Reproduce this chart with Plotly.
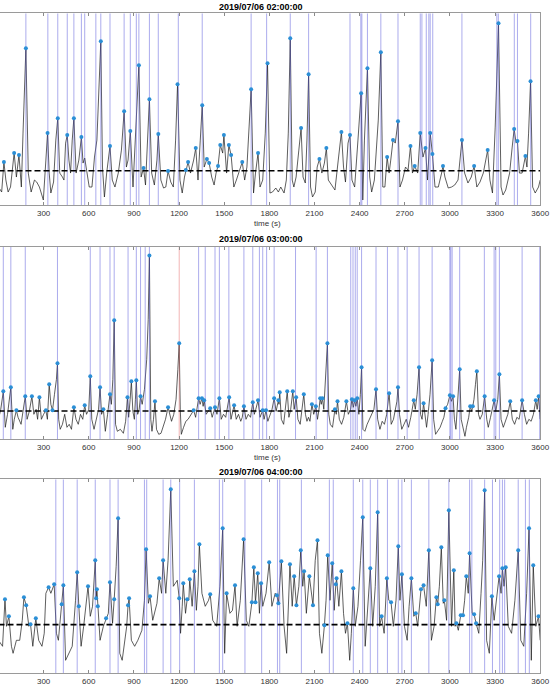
import numpy as np
import plotly.graph_objects as go
from plotly.subplots import make_subplots

# ---------------- data (time in s, signal in arbitrary units) ----------------
titles = ["2019/07/06 02:00:00", "2019/07/06 03:00:00", "2019/07/06 04:00:00"]
x_ticks = list(range(0, 3601, 300))

p1_t = [0,21,36,49,64,80,104,119,136,152,163,182,198,217,239,254,272,289,298,315,326,337,348,366,381,394,407,425,435,446,457,468,479,490,501,516,534,551,562,573,588,603,621,638,654,680,691,704,719,741,756,774,796,817,835,850,861,876,894,909,933,948,964,977,992,1003,1018,1036,1053,1062,1079,1097,1112,1127,1145,1162,1177,1190,1206,1221,1236,1245,1260,1276,1297,1311,1326,1341,1354,1367,1385,1400,1417,1433,1446,1459,1474,1490,1498,1516,1531,1546,1564,1581,1603,1620,1636,1651,1679,1695,1708,1725,1738,1756,1773,1788,1804,1821,
        1843,1860,1876,1898,1913,1926,1939,1952,1963,1978,1996,2011,2024,2039,2050,2061,2074,2087,2105,2118,2133,2149,2166,2179,2192,2214,2236,2258,2279,2293,2306,2323,2336,2349,2367,2389,2410,2421,2432,2452,2467,2480,2498,2524,2541,2554,2568,2583,2596,2607,2622,2637,2655,2668,2685,2705,2722,2738,2751,2766,2786,2803,2821,2838,2851,2869,2884,2901,2923,2945,2954,2967,2989,3011,3032,3054,3080,3098,3120,3142,3161,3179,3200,3222,3251,3266,3283,3301,3323,3340,3353,3371,3397,3414,3427,3440,3449,3462,3480,3502,3512,3523,3536,3550,3567,3589,3600]
p1_v = [18,13,43,25,13,18,52,28,50,18,72,157,32,13,25,23,18,8,5,45,72,32,12,23,65,87,32,28,25,62,70,45,32,65,87,32,45,68,42,47,32,18,18,48,65,164,38,8,32,59,25,18,32,55,94,38,45,74,18,65,140,28,37,20,65,106,32,20,45,71,25,17,18,34,23,18,65,121,25,12,28,35,43,32,45,57,25,65,100,38,46,42,28,20,32,39,60,52,70,32,60,50,18,25,35,43,25,38,116,12,32,52,18,25,72,142,12,13,
        17,13,18,12,25,72,167,25,18,28,55,77,28,22,65,131,18,8,13,38,46,32,42,57,25,20,15,45,73,38,23,62,70,25,18,65,112,5,65,137,28,13,25,85,153,18,18,48,32,45,65,62,84,18,25,38,35,59,32,39,32,72,48,57,25,72,51,18,18,32,39,28,17,18,20,25,65,32,22,28,39,18,23,32,55,25,12,78,182,18,10,15,32,58,76,62,64,32,32,49,38,72,124,18,12,18,25]
p1_peaks = [36,104,136,182,326,394,457,501,551,680,741,835,876,933,964,1003,1062,1127,1190,1245,1260,1311,1354,1385,1400,1459,1474,1498,1531,1546,1620,1679,1725,1788,1939,2011,2061,2133,2179,2279,2336,2410,2452,2541,2583,2622,2655,2738,2766,2803,2838,2869,2884,2954,3080,3161,3251,3323,3427,3449,3502,3536]
p1_events = [182,328,394,457,501,551,573,647,680,741,835,876,916,933,1003,1062,1195,1354,1679,1782,1939,2061,2336,2408,2415,2452,2541,2655,2803,2814,2843,2860,2869,2886,3080,3312,3322,3428,3449,3537]
p1_red = []
p1_thr = 34.3
p1_ymax = 192

p2_t = [0,15,32,45,60,82,95,105,119,130,150,165,178,190,205,222,235,250,260,272,285,300,315,325,337,348,359,372,385,392,400,410,425,440,455,470,485,501,515,530,545,560,573,585,600,610,620,635,650,665,675,685,697,710,725,741,750,760,769,778,790,810,830,845,857,865,875,883,893,903,910,916,925,935,944,955,970,985,995,1003,1012,1020,1030,1040,1050,1065,1080,1095,1110,1127,1140,1150,1165,1180,1192,1201,1208,1215,1230,1245,1260,1280,1297,1310,1320,1330,1340,1352,1360,1367,1380,1395,1407,1420,1430,1439,1452,1468,1480,1495,1510,1520,1533,1545,1555,1566,1580,1595,1610,1620,1631,1645,1660,1675,1690,1700,1710,1725,1738,1748,1756,1765,1778,1790,1805,1818,1832,1845,
        1860,1864,1869,1880,1895,1905,1919,1930,1942,1956,1965,1978,1990,2005,2015,2029,2040,2050,2060,2070,2083,2095,2109,2120,2130,2138,2145,2153,2162,2175,2186,2195,2205,2220,2236,2245,2253,2265,2280,2295,2312,2325,2340,2349,2358,2367,2375,2384,2395,2405,2413,2422,2435,2450,2465,2480,2495,2509,2520,2535,2550,2565,2580,2596,2610,2625,2640,2648,2655,2665,2680,2695,2710,2725,2740,2760,2770,2782,2795,2805,2815,2825,2835,2845,2855,2868,2882,2892,2905,2920,2935,2950,2960,2971,2985,3000,3010,3021,3030,3040,3050,3058,3065,3075,3090,3100,3110,3125,3135,3145,3152,3160,3170,3179,3190,3200,3215,3231,3245,3255,3270,3283,3294,3305,3318,3329,3340,3355,3370,3385,3401,3415,3430,3445,3460,3480,3495,3510,3525,3540,3555,3571,3580,3590,3600]
p2_v = [20,30,48,12,25,52,10,20,29,22,15,30,43,20,28,43,25,30,20,42,20,25,29,20,55,35,29,45,60,76,20,10,15,25,12,15,10,32,20,15,25,20,34,25,30,63,20,10,22,30,52,25,30,8,25,45,35,60,119,15,8,10,6,18,42,22,40,58,28,20,40,59,25,30,43,35,50,80,120,184,20,8,20,38,10,5,6,12,20,32,25,18,25,40,70,96,30,5,12,18,20,25,29,22,30,41,35,41,33,39,25,28,31,22,28,32,25,41,20,25,22,30,42,20,28,34,20,25,18,22,33,20,25,22,37,25,30,39,22,25,29,20,29,18,25,30,41,28,
        39,35,47,20,15,28,48,22,30,48,30,42,20,15,30,45,25,18,22,18,35,25,33,20,30,41,35,41,30,60,96,25,15,12,30,25,38,20,15,22,38,25,30,40,32,39,33,41,25,45,72,10,8,15,20,25,30,50,20,10,18,15,25,46,15,20,30,38,52,25,10,15,20,12,22,39,30,45,72,25,20,36,20,12,25,45,79,20,5,8,12,18,22,31,35,44,38,43,20,10,30,50,70,20,10,3,12,22,33,28,33,40,55,68,25,20,25,43,20,12,22,30,39,28,40,65,20,12,18,25,38,20,15,22,20,39,25,15,20,18,25,39,30,43,20]
p2_peaks = [32,82,119,178,222,272,315,337,359,392,501,573,610,675,697,741,769,857,883,916,944,1003,1040,1127,1201,1297,1330,1352,1367,1407,1439,1468,1533,1566,1631,1690,1725,1756,1778,1832,1860,1869,1919,1956,1978,2029,2083,2109,2138,2153,2186,2236,2253,2312,2349,2367,2384,2413,2509,2596,2655,2760,2795,2825,2882,2971,3000,3021,3065,3135,3152,3179,3231,3294,3329,3401,3480,3571,3590]
p2_events = [32,82,178,392,610,675,741,769,861,916,944,975,1003,1330,1374,1439,1468,1531,1631,1690,1734,1756,1782,1832,1974,2111,2186,2341,2356,2371,2384,2413,2509,2585,2655,2716,2795,2882,3000,3006,3015,3065,3229,3294,3305,3329,3480,3597]
p2_red = [1201]
p2_thr = 28.3
p2_ymax = 192.7

p3_t = [0,27,43,53,69,86,97,119,141,158,169,184,202,213,228,248,267,289,304,315,333,348,370,385,398,420,431,446,468,490,512,523,534,549,566,582,595,610,625,643,649,654,660,675,697,715,730,741,758,769,782,795,806,822,839,852,861,868,883,905,926,953,970,981,996,1007,1025,1053,1068,1084,1094,1112,1127,1145,1162,1188,1201,1210,1221,1228,1243,1254,1265,1271,1287,1302,1315,1326,1335,1352,1374,1396,1407,1424,1450,1472,1490,1503,1516,1538,1555,1572,1586,1607,1629,1647,1664,1684,1697,1708,1723,1734,1745,1756,1778,1799,1817,1839,
        1850,1860,1880,1898,1915,1937,1952,1965,1980,1996,2009,2022,2031,2046,2066,2079,2090,2105,2120,2133,2149,2166,2177,2188,2203,2218,2231,2242,2247,2262,2279,2293,2306,2319,2334,2345,2358,2371,2389,2406,2421,2437,2454,2471,2487,2504,2520,2533,2546,2563,2581,2594,2609,2624,2642,2657,2668,2681,2698,2716,2729,2744,2760,2773,2786,2808,2825,2843,2860,2877,2895,2910,2919,2930,2943,2956,2963,2978,2993,3011,3026,3035,3043,3056,3072,3087,3098,3109,3122,3131,3148,3161,3174,3192,3207,3218,3231,3244,3262,3279,3294,3310,3327,3340,3349,3360,3371,3388,3410,3432,3454,3471,3491,3510,3526,3541,3554,3571,3589,3600]
p3_v = [33,27,74,47,57,27,20,33,33,53,76,68,47,49,27,55,33,27,40,80,86,80,89,40,33,69,88,13,20,27,73,101,67,27,47,67,87,57,67,113,75,84,67,33,47,55,60,91,50,74,107,155,20,13,33,47,68,75,33,27,33,43,73,124,70,77,53,70,95,80,113,80,113,184,87,93,75,40,67,90,60,74,73,94,67,102,63,87,129,80,67,73,79,53,47,87,145,20,80,60,63,88,47,73,134,53,47,71,106,71,100,60,90,67,80,111,67,80,
        78,70,112,47,20,109,67,97,68,87,123,87,102,60,97,80,68,113,133,40,20,48,73,118,73,110,63,89,95,67,102,60,40,50,13,40,85,47,67,113,156,27,63,105,47,87,161,47,57,40,95,73,71,47,73,127,73,99,47,33,67,95,57,60,47,84,88,67,123,33,47,76,69,87,126,70,73,53,163,47,103,47,50,43,58,58,73,97,80,120,60,59,50,40,80,113,183,33,20,77,53,73,97,80,105,87,106,47,40,73,123,33,27,80,145,13,108,47,57,33]
p3_peaks = [43,69,169,184,213,248,333,370,420,431,523,534,595,643,649,654,660,715,741,769,795,861,868,981,1007,1068,1094,1145,1201,1228,1254,1271,1302,1335,1407,1490,1516,1572,1629,1684,1697,1708,1723,1745,1799,1850,1860,1880,1937,1965,1980,2009,2031,2066,2090,2120,2166,2188,2218,2242,2247,2279,2319,2358,2421,2471,2520,2546,2581,2609,2657,2681,2744,2773,2808,2825,2860,2910,2919,2943,2963,2993,3026,3043,3072,3087,3109,3131,3161,3174,3231,3279,3327,3349,3371,3454,3526,3554,3589]
p3_events = [381,431,523,643,741,795,970,985,1094,1145,1204,1302,1468,1490,1638,1749,1854,1869,2013,2199,2225,2358,2421,2471,2520,2585,2657,2681,2744,2860,2993,3131,3146,3231,3283,3331,3349,3364,3454,3502,3528]
p3_red = []
p3_thr = 48.7
p3_ymax = 194

panels = [
    (p1_t, p1_v, p1_peaks, p1_events, p1_red, p1_thr, p1_ymax),
    (p2_t, p2_v, p2_peaks, p2_events, p2_red, p2_thr, p2_ymax),
    (p3_t, p3_v, p3_peaks, p3_events, p3_red, p3_thr, p3_ymax),
]

# ---------------- figure ----------------
W, H = 560, 688
fig = make_subplots(rows=3, cols=1)

def vlines(ts, ymax):
    xs, ys = [], []
    for t in ts:
        xs += [t, t, None]
        ys += [0, ymax, None]
    return xs, ys

for i, (t, v, pk, ev, red, thr, ymax) in enumerate(panels, start=1):
    fig.add_trace(go.Scatter(x=t, y=v, mode="lines",
                             line=dict(color="#1a1a1a", width=0.7),
                             showlegend=False, hoverinfo="skip"), row=i, col=1)
    xs, ys = vlines(ev, ymax)
    fig.add_trace(go.Scatter(x=xs, y=ys, mode="lines",
                             line=dict(color="rgba(90,90,220,0.5)", width=1),
                             showlegend=False, hoverinfo="skip"), row=i, col=1)
    if red:
        xs, ys = vlines(red, ymax)
        fig.add_trace(go.Scatter(x=xs, y=ys, mode="lines",
                                 line=dict(color="rgba(230,110,110,0.5)", width=1),
                                 showlegend=False, hoverinfo="skip"), row=i, col=1)
    fig.add_trace(go.Scatter(x=[0, 3600], y=[thr, thr], mode="lines",
                             line=dict(color="black", width=1.6, dash="6px,3px"),
                             showlegend=False, hoverinfo="skip"), row=i, col=1)
    pv = np.interp(pk, t, v)
    fig.add_trace(go.Scatter(x=pk, y=pv, mode="markers",
                             marker=dict(color="#2b8fd6", size=4),
                             showlegend=False, hoverinfo="skip"), row=i, col=1)

# panel pixel geometry (top, bottom) in px
geom = [(13.3, 205.0), (246.7, 439.3), (479.3, 673.3)]
x_right = 549 / W
font = "Liberation Sans, Arial, sans-serif"
for i, (top, bot) in enumerate(geom, start=1):
    ymax = panels[i - 1][6]
    xa = "xaxis" if i == 1 else f"xaxis{i}"
    ya = "yaxis" if i == 1 else f"yaxis{i}"
    fig.layout[xa].update(domain=[0, x_right], range=[10, 3600],
                          tickvals=x_ticks, ticktext=[str(k) for k in x_ticks],
                          ticks="inside", ticklen=3, tickcolor="#8a8a8a",
                          showline=True, linecolor="#9a9a9a", linewidth=1,
                          mirror="ticks", showgrid=False, zeroline=False,
                          tickfont=dict(size=8, color="#333", family=font))
    fig.layout[ya].update(domain=[1 - bot / H, 1 - top / H], range=[0, ymax],
                          showticklabels=False, ticks="", showline=True,
                          linecolor="#9a9a9a", linewidth=1, mirror=True,
                          showgrid=False, zeroline=False)

title_y = [7, 239, 472]
for ty, txt in zip(title_y, titles):
    fig.add_annotation(text=f"<b>{txt}</b>", xref="paper", yref="paper",
                       x=265 / W, y=1 - ty / H, xanchor="center", yanchor="middle",
                       showarrow=False, font=dict(size=9, color="black", family=font))

for ly in [223, 457]:
    fig.add_annotation(text="time (s)", xref="paper", yref="paper",
                       x=272 / W, y=1 - ly / H, xanchor="center", yanchor="middle",
                       showarrow=False, font=dict(size=8, color="#333", family=font))

fig.update_layout(width=W, height=H, margin=dict(l=0, r=0, t=0, b=0),
                  paper_bgcolor="white", plot_bgcolor="white", showlegend=False)

fig.write_html("out.html")
